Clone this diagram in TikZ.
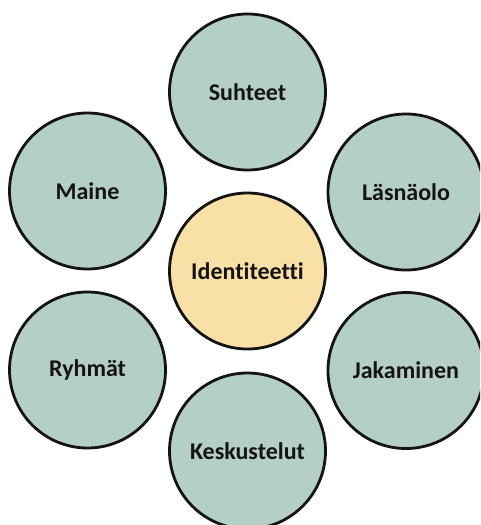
\documentclass[tikz,border=0pt]{standalone}
\usepackage{fontspec}
\setmainfont{Carlito}[Ligatures=NoCommon]
\usetikzlibrary{positioning}
\definecolor{sage}{RGB}{180,207,195}
\definecolor{sand}{RGB}{249,224,166}
\definecolor{ink}{RGB}{20,20,20}

\begin{document}
\begin{tikzpicture}[
  x=1pt, y=-1pt,
  ring/.style={circle, draw=ink, line width=2.8pt, fill=sage,
               minimum size=156pt, inner sep=0pt,
               font=\fontsize{24}{28}\selectfont\bfseries, text=ink},
  core/.style={ring, fill=sand}
]
\clip (0,0) rectangle (480,525);
\useasboundingbox (0,0) rectangle (480,525);
% centre and the six around it
\node[core] (ident) at (247.5,271) {Identiteetti};
\node[ring] (suht)  at (247.5,92)  {Suhteet};
\node[ring] (maine) at (87.5,191)  {Maine};
\node[ring] (lasna) at (406,192)   {Läsnäolo};
\node[ring] (ryhma) at (87.5,370)  {Ryhmät};
\node[ring] (jaka)  at (406,370.5) {Jakaminen};
\node[ring] (kesk)  at (247.5,451) {Keskustelut};
\end{tikzpicture}
\end{document}
